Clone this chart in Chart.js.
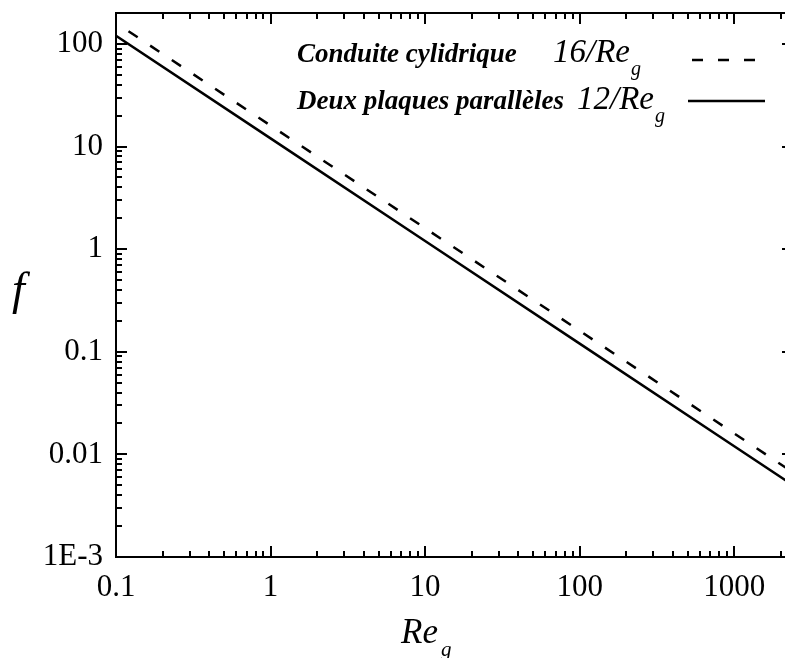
<!DOCTYPE html>
<html>
<head>
<meta charset="utf-8">
<script src="https://cdn.jsdelivr.net/npm/chart.js@4/dist/chart.umd.min.js"></script>
<style>
  html, body { margin: 0; padding: 0; background: #fff; overflow: hidden; }
  #wrap { width: 800px; height: 658px; position: relative; }
</style>
</head>
<body>
<div id="wrap"><canvas id="chart"></canvas></div>
<script>
// Reynolds numbers and friction factors
const reynolds = [0.1, 1, 10, 100, 1000, 2400];
const cylinder = [160, 16, 1.6, 0.16, 0.016, 0.00667];
const plates = [120, 12, 1.2, 0.12, 0.012, 0.005];

const seriesNames = ['Conduite cylidrique', 'Deux plaques parallèles'];
const seriesFormulas = ['16/Re', '12/Re'];

const xTickValues = [0.1, 1, 10, 100, 1000];
const xTickLabels = ['0.1', '1', '10', '100', '1000'];
const yTickValues = [0.001, 0.01, 0.1, 1, 10, 100];
const yTickLabels = ['1E-3', '0.01', '0.1', '1', '10', '100'];

const SERIF = "'Liberation Serif', 'DejaVu Serif', serif";

const toPoints = (ys) => reynolds.map((x, i) => ({ x, y: ys[i] }));

const noPadding = (scale) => {
  scale.paddingTop = 0;
  scale.paddingBottom = 0;
  scale.paddingLeft = 0;
  scale.paddingRight = 0;
};

const frameTicks = {
  id: 'frameTicks',
  afterDraw(chart) {
    const { ctx, chartArea: a, scales } = chart;
    const xs = scales.x;
    const ys = scales.y;
    ctx.save();
    ctx.strokeStyle = '#000';
    ctx.lineWidth = 2;
    ctx.lineCap = 'butt';

    // frame
    ctx.beginPath();
    ctx.moveTo(a.left, a.top);
    ctx.lineTo(a.right, a.top);
    ctx.lineTo(a.right, a.bottom);
    ctx.lineTo(a.left, a.bottom);
    ctx.closePath();
    ctx.stroke();

    const logTicks = (min, max) => {
      const out = [];
      for (let e = Math.floor(Math.log10(min)); e <= Math.ceil(Math.log10(max)); e++) {
        for (let k = 1; k <= 9; k++) {
          const v = k * Math.pow(10, e);
          if (v >= min * 0.999 && v <= max * 1.001) out.push({ v, major: k === 1 });
        }
      }
      return out;
    };

    ctx.beginPath();
    logTicks(xs.min, xs.max).forEach(({ v, major }) => {
      const px = Math.round(xs.getPixelForValue(v));
      const len = major ? 11 : 6;
      ctx.moveTo(px, a.bottom);
      ctx.lineTo(px, a.bottom - len);
      ctx.moveTo(px, a.top);
      ctx.lineTo(px, a.top + len);
    });
    logTicks(ys.min, ys.max).forEach(({ v, major }) => {
      const py = Math.round(ys.getPixelForValue(v));
      const len = major ? 11 : 6;
      ctx.moveTo(a.left, py);
      ctx.lineTo(a.left + len, py);
      ctx.moveTo(a.right, py);
      ctx.lineTo(a.right - len, py);
    });
    ctx.stroke();

    // axis titles
    ctx.fillStyle = '#000';
    ctx.textBaseline = 'alphabetic';
    ctx.textAlign = 'left';
    ctx.font = `italic 46px ${SERIF}`;
    ctx.fillText('f', 12, 304);
    ctx.font = `italic 35px ${SERIF}`;
    ctx.fillText('Re', 401, 643);
    const reW = ctx.measureText('Re').width;
    ctx.font = `italic 21px ${SERIF}`;
    ctx.fillText('g', 401 + reW + 3, 656);

    // legend
    const rows = [
      { base: 62, line: 60 },
      { base: 109, line: 101 },
    ];
    const formulaX = [553, 577];
    chart.data.datasets.forEach((ds, i) => {
      const r = rows[i];
      ctx.font = `italic bold 27px ${SERIF}`;
      ctx.fillText(seriesNames[i], 297, r.base);
      ctx.font = `italic 33px ${SERIF}`;
      ctx.fillText(seriesFormulas[i], formulaX[i], r.base);
      const fw = ctx.measureText(seriesFormulas[i]).width;
      ctx.font = `italic 20px ${SERIF}`;
      ctx.fillText('g', formulaX[i] + fw + 1, r.base + 13);

      ctx.beginPath();
      ctx.lineWidth = ds.borderWidth;
      ctx.setLineDash(ds.borderDash || []);
      ctx.lineDashOffset = 0;
      ctx.moveTo(i === 0 ? 692 : 688, r.line);
      ctx.lineTo(i === 0 ? 757 : 765, r.line);
      ctx.stroke();
    });
    ctx.restore();
  },
};

new Chart(document.getElementById('chart'), {
  type: 'line',
  data: {
    datasets: [
      {
        label: seriesNames[0],
        data: toPoints(cylinder),
        borderColor: '#000',
        borderWidth: 2.5,
        borderDash: [11, 15],
        borderDashOffset: 11,
        pointRadius: 0,
        fill: false,
      },
      {
        label: seriesNames[1],
        data: toPoints(plates),
        borderColor: '#000',
        borderWidth: 2.5,
        pointRadius: 0,
        fill: false,
      },
    ],
  },
  options: {
    responsive: true,
    maintainAspectRatio: false,
    animation: false,
    events: [],
    layout: { padding: { top: 13, right: 7, left: 0, bottom: 0 } },
    plugins: {
      legend: { display: false },
      tooltip: { enabled: false },
    },
    scales: {
      x: {
        type: 'logarithmic',
        min: 0.1,
        max: 2400,
        border: { display: false },
        grid: { display: false, drawTicks: false },
        afterBuildTicks: (scale) => {
          scale.ticks = xTickValues.map((value) => ({ value }));
        },
        afterFit: (scale) => {
          scale.height = 101;
          noPadding(scale);
        },
        ticks: {
          autoSkip: false,
          maxRotation: 0,
          padding: 12,
          color: '#000',
          font: { family: SERIF, size: 31 },
          callback: (value, index) => xTickLabels[index],
        },
      },
      y: {
        type: 'logarithmic',
        min: 0.001,
        max: 200,
        border: { display: false },
        grid: { display: false, drawTicks: false },
        afterBuildTicks: (scale) => {
          scale.ticks = yTickValues.map((value) => ({ value }));
        },
        afterFit: (scale) => {
          scale.width = 116;
          noPadding(scale);
        },
        ticks: {
          autoSkip: false,
          padding: 13,
          color: '#000',
          font: { family: SERIF, size: 31 },
          callback: (value, index) => yTickLabels[index],
        },
      },
    },
  },
  plugins: [frameTicks],
});
</script>
</body>
</html>
